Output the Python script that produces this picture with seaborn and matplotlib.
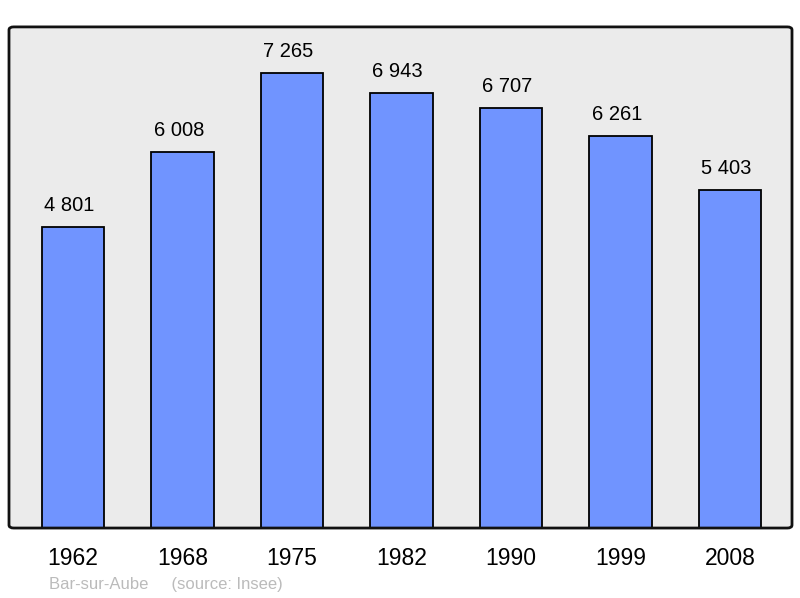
import matplotlib
matplotlib.use("Agg")
import matplotlib.pyplot as plt
import seaborn as sns
import pandas as pd
from matplotlib.patches import FancyBboxPatch

# Population data - Bar-sur-Aube
years = ["1962", "1968", "1975", "1982", "1990", "1999", "2008"]
population = [4801, 6008, 7265, 6943, 6707, 6261, 5403]
labels = ["4 801", "6 008", "7 265", "6 943", "6 707", "6 261", "5 403"]

df = pd.DataFrame({"year": years, "pop": population})

sns.set_theme(style="white")
plt.rcParams["font.family"] = ["Liberation Sans", "DejaVu Sans"]

fig = plt.figure(figsize=(8, 5.98), dpi=100)
ax = fig.add_axes([0.01125, 0.117, 0.97875, 0.838])
ax.set_facecolor("#ebebeb")

sns.barplot(data=df, x="year", y="pop", color="#7094ff", saturation=1,
            width=0.57, edgecolor="black", linewidth=1.3, ax=ax)

# value labels sit a bit left of the bar centre, like the original
for i, (v, txt) in enumerate(zip(population, labels)):
    ax.text(i - 0.035, v + 190, txt, ha="center", va="bottom", fontsize=14.5, color="black")

ax.set_xlim(-0.585, 6.565)
ax.set_ylim(0, 8000)
ax.set_yticks([])
ax.set_xlabel("")
ax.set_ylabel("")
ax.tick_params(axis="x", length=0, labelsize=16.5, pad=14, colors="black")

for s in ax.spines.values():
    s.set_visible(False)
border = FancyBboxPatch((0, 0), 1, 1, boxstyle="round,pad=0,rounding_size=0.006",
                        transform=ax.transAxes, fill=False, edgecolor="#111111",
                        linewidth=2, clip_on=False, zorder=5)
ax.add_patch(border)

fig.text(0.061, 0.01, "Bar-sur-Aube     (source: Insee)", fontsize=12,
         color="#bbbbbb", ha="left", va="bottom")

fig.savefig("out.png", dpi=100, facecolor="white")
